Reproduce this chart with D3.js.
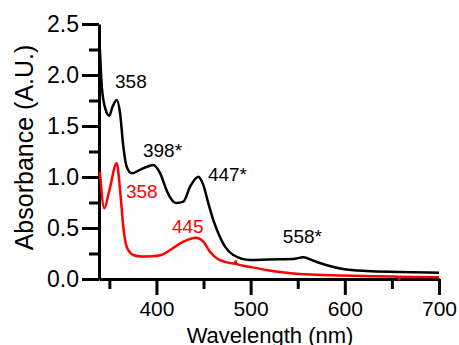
<!DOCTYPE html>
<html>
<head>
<meta charset="utf-8">
<script src="https://cdn.jsdelivr.net/npm/d3@7"></script>
<style>
  body { margin: 0; background: #fff; }
  text { font-family: "Liberation Sans", Arial, sans-serif; }
</style>
</head>
<body>
<svg id="chart" width="459" height="345"></svg>
<script>
// black spectrum (wavelength nm, absorbance)
const blackWl  = [340, 342, 346, 350, 353, 357.8, 361.3, 364.8, 368.4, 373.7, 382.5, 390, 396.6, 403.7, 410.8, 414.5, 421, 428.6, 435.7, 444.5, 449.8, 455.1, 460.4, 465.7, 472.8, 481.6, 499.4, 530, 545, 556, 566, 580, 598, 623, 658, 700];
const blackAbs = [2.25, 1.885, 1.66, 1.60, 1.68, 1.755, 1.63, 1.30, 1.10, 1.036, 1.07, 1.10, 1.118, 1.04, 0.87, 0.80, 0.745, 0.758, 0.905, 1.003, 0.92, 0.742, 0.578, 0.448, 0.317, 0.235, 0.186, 0.193, 0.196, 0.213, 0.181, 0.137, 0.098, 0.078, 0.069, 0.062];

// red spectrum
const redWl  = [340, 344.6, 350, 357.8, 361.7, 364.8, 368.4, 375.5, 384, 395, 405, 414.5, 428.6, 442, 449.8, 456.9, 464, 472, 483.5, 484.1, 484.7, 500, 516.7, 552, 587, 657, 657.8, 658.6, 700];
const redAbs = [1.05, 0.693, 0.87, 1.134, 0.84, 0.513, 0.317, 0.235, 0.22, 0.222, 0.235, 0.284, 0.366, 0.405, 0.366, 0.268, 0.203, 0.17, 0.15, 0.175, 0.148, 0.118, 0.088, 0.049, 0.036, 0.022, -0.005, 0.022, 0.017];

// peak labels
const blackLabels = ["358", "398*", "447*", "558*"];
const blackLabelWl = [356, 385.7, 454.6, 534.2];
const blackLabelAbs = [1.873, 1.196, 0.961, 0.353];
const redLabels = ["358", "445"];
const redLabelWl = [367.6, 416.4];
const redLabelAbs = [0.794, 0.451];

const xMajor = [400, 500, 600, 700];
const xMinor = [350, 450, 550, 650];
const yMajor = [0, 0.5, 1.0, 1.5, 2.0, 2.5];
const yMinor = [0.25, 0.75, 1.25, 1.75, 2.25];

const svg = d3.select('#chart');
const margin = {left: 99, right: 20, top: 24, bottom: 66};
const width = 459, height = 345;

let x = d3.scaleLinear().domain([339, 700]).range([margin.left, width - margin.right]);
let y = d3.scaleLinear().domain([0, 2.5]).range([height - margin.bottom, margin.top]);

// minor ticks
svg.append('g')
   .attr('transform', `translate(0,${y(0)})`)
   .call(d3.axisBottom(x).tickValues(xMinor).tickSize(10).tickFormat(''))
   .call(g => g.select('.domain').remove())
   .selectAll('line').attr('stroke', 'black').attr('stroke-width', 3);
svg.append('g')
   .attr('transform', `translate(${x(339)},0)`)
   .call(d3.axisLeft(y).tickValues(yMinor).tickSize(10).tickFormat(''))
   .call(g => g.select('.domain').remove())
   .selectAll('line').attr('stroke', 'black').attr('stroke-width', 3);

// major x axis
let xAxis = svg.append('g')
   .attr('transform', `translate(0,${y(0)})`)
   .call(d3.axisBottom(x).tickValues(xMajor).tickSize(16).tickSizeOuter(0).tickPadding(6).tickFormat(d3.format('d')));
xAxis.select('.domain').attr('stroke-width', 3);
xAxis.selectAll('line').attr('stroke', 'black').attr('stroke-width', 3);
xAxis.selectAll('text').attr('font-size', '21px').attr('fill', 'black')
     .style('font-family', '"Liberation Sans", Arial, sans-serif');

// major y axis
let yAxis = svg.append('g')
   .attr('transform', `translate(${x(339)},0)`)
   .call(d3.axisLeft(y).tickValues(yMajor).tickSize(17).tickSizeOuter(0).tickPadding(3).tickFormat(d3.format('.1f')));
yAxis.select('.domain').attr('stroke-width', 3);
yAxis.selectAll('line').attr('stroke', 'black').attr('stroke-width', 3);
yAxis.selectAll('text').attr('font-size', '23px').attr('fill', 'black')
     .style('font-family', '"Liberation Sans", Arial, sans-serif');

// axis titles
svg.append('text')
   .attr('x', (x(339) + x(700)) / 2 + 1)
   .attr('y', 343)
   .attr('text-anchor', 'middle')
   .attr('font-size', '22px')
   .text('Wavelength (nm)');
svg.append('text')
   .attr('transform', `translate(33,${(y(0) + y(2.5)) / 2 - 4}) rotate(-90)`)
   .attr('text-anchor', 'middle')
   .attr('font-size', '25px')
   .text('Absorbance (A.U.)');

// spectra
let lineFunction = d3.line()
   .x(d => x(d[0]))
   .y(d => y(d[1]))
   .curve(d3.curveMonotoneX);

svg.append('path')
   .attr('d', lineFunction(d3.zip(redWl, redAbs)))
   .attr('fill', 'none')
   .attr('stroke', '#ff0000')
   .attr('stroke-width', 2.5);
svg.append('path')
   .attr('d', lineFunction(d3.zip(blackWl, blackAbs)))
   .attr('fill', 'none')
   .attr('stroke', 'black')
   .attr('stroke-width', 2.5);

// labels
svg.selectAll('.blackLabel')
   .data(d3.zip(blackLabels, blackLabelWl, blackLabelAbs))
   .enter()
   .append('text')
   .attr('class', 'blackLabel')
   .attr('x', d => x(d[1]))
   .attr('y', d => y(d[2]))
   .attr('font-size', '19px')
   .attr('fill', 'black')
   .text(d => d[0]);
svg.selectAll('.redLabel')
   .data(d3.zip(redLabels, redLabelWl, redLabelAbs))
   .enter()
   .append('text')
   .attr('class', 'redLabel')
   .attr('x', d => x(d[1]))
   .attr('y', d => y(d[2]))
   .attr('font-size', '19px')
   .attr('fill', '#ff0000')
   .text(d => d[0]);
</script>
</body>
</html>
